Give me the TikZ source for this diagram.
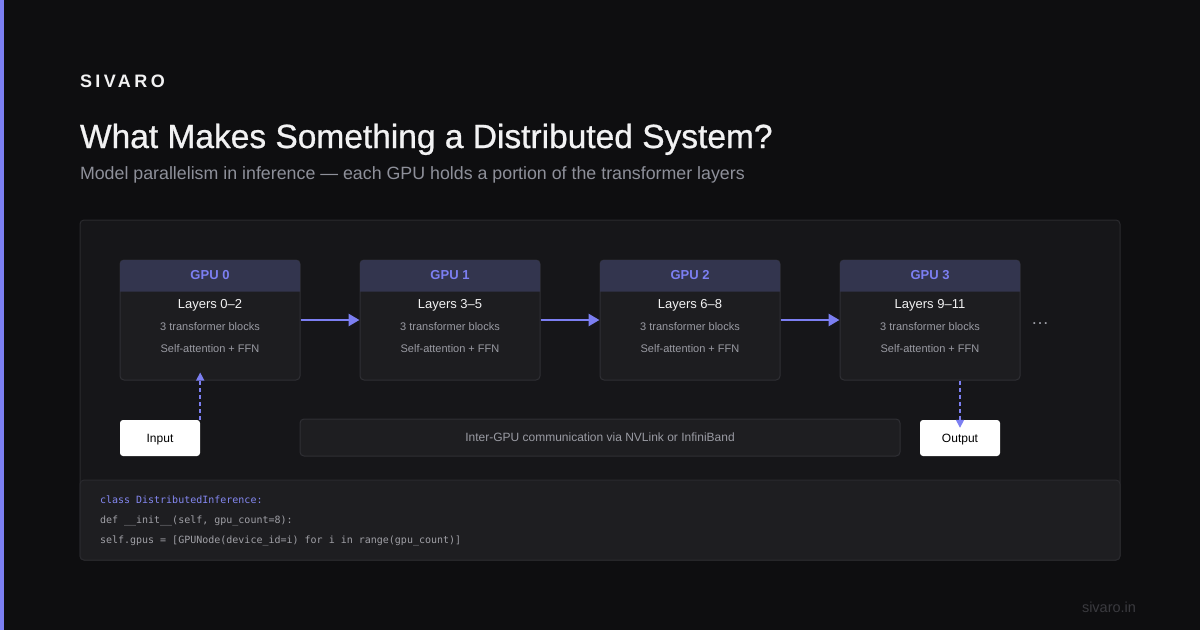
\documentclass[tikz,border=0pt]{standalone}
\usepackage{fontspec}
\setmainfont{Liberation Sans}
\setmonofont{DejaVu Sans Mono}
\usetikzlibrary{arrows.meta,calc}
\definecolor{bg}{HTML}{0E0E10}
\definecolor{accent}{HTML}{7C7FF2}
\definecolor{panel}{HTML}{161619}
\definecolor{panelline}{HTML}{2A2A2E}
\definecolor{gpubody}{HTML}{1D1D20}
\definecolor{gpuline}{HTML}{2F2F34}
\definecolor{gpuhead}{HTML}{33354E}
\definecolor{headtext}{HTML}{7C7FF2}
\definecolor{whitetext}{HTML}{F2F2F3}
\definecolor{graytext}{HTML}{9A9BA3}
\definecolor{subgray}{HTML}{8E909A}
\definecolor{codebg}{HTML}{1E1E21}
\definecolor{codegray}{HTML}{A0A0A6}
\definecolor{codeblue}{HTML}{8488F2}
\definecolor{footgray}{HTML}{3A3A3F}
\tikzset{
  txt/.style={inner sep=0pt, outer sep=0pt},
  gpubox/.style={draw=gpuline, line width=1pt, fill=gpubody, rounded corners=4pt,
    minimum width=180pt, minimum height=120pt, inner sep=0pt},
  whitebox/.style={fill=white, rounded corners=3pt, minimum width=80pt, minimum height=36pt,
    inner sep=0pt, text height=8.6pt, text depth=0pt, font=\fontsize{12}{14}\selectfont, text=black},
  flowarrow/.style={draw=accent, line width=2.7pt, -{Triangle[length=11pt,width=12pt]}},
  dasharrow/.style={draw=accent, line width=1.5pt, dash pattern=on 4pt off 3pt,
    -{Triangle[length=8pt,width=8pt]}, shorten >=-8pt},
  headlbl/.style={txt, font=\bfseries\fontsize{13}{15}\selectfont, text=headtext},
  layerlbl/.style={txt, anchor=base, font=\fontsize{13}{15}\selectfont, text=whitetext},
  smalllbl/.style={txt, anchor=base, font=\fontsize{11}{13}\selectfont, text=graytext},
  codelbl/.style={txt, anchor=base west, font=\ttfamily\fontsize{10}{12}\selectfont},
}
\begin{document}
\begin{tikzpicture}[x=1pt,y=-1pt]
\useasboundingbox (0,0) rectangle (1200,630);
\fill[bg] (0,0) rectangle (1200,630);
\fill[accent] (0,0) rectangle (4,630);

% header texts
\node[txt, anchor=base west, font=\bfseries\fontsize{18}{20}\selectfont\addfontfeatures{LetterSpace=19}, text=whitetext] (brand) at (80,87) {SIVARO};
\node[txt, anchor=base west, font=\fontsize{33.5}{38}\selectfont\addfontfeatures{FakeBold=0.8}, text=whitetext] (title) at (80,148) {What Makes Something a Distributed System?};
\node[txt, anchor=base west, font=\fontsize{17.8}{20}\selectfont, text=subgray] (subtitle) at (80,179) {Model parallelism in inference — each GPU holds a portion of the transformer layers};

% panels
\node[draw=panelline, line width=1pt, fill=panel, rounded corners=4pt, minimum width=1040pt, minimum height=340pt, inner sep=0pt] (panel) at (600,390) {};
\node[draw=panelline, line width=1pt, fill=codebg, rounded corners=4pt, minimum width=1040pt, minimum height=80pt, inner sep=0pt] (code) at (600,520) {};

% GPU boxes
\foreach \i/\cx/\lay in {0/210/0--2, 1/450/3--5, 2/690/6--8, 3/930/9--11}{
  \node[gpubox] (g\i) at (\cx,320) {};
  \fill[gpuhead] ($(g\i.north west)+(0.5,32)$) {[rounded corners=3.5pt] -- ($(g\i.north west)+(0.5,0.5)$) -- ($(g\i.north east)+(-0.5,0.5)$)} -- ($(g\i.north east)+(-0.5,32)$) -- cycle;
  \node[headlbl] (h\i) at (\cx,275) {GPU \i};
  \node[layerlbl] (l\i) at (\cx,308) {Layers \lay};
  \node[smalllbl] (b\i) at (\cx,330) {3 transformer blocks};
  \node[smalllbl] (s\i) at (\cx,352) {Self-attention + FFN};
}
\node[txt, font=\fontsize{18}{20}\selectfont, text=graytext] (dots) at (1040,324) {…};

% flow arrows
\draw[flowarrow] (g0.east) -- (g1.west);
\draw[flowarrow] (g1.east) -- (g2.west);
\draw[flowarrow] (g2.east) -- (g3.west);

% bottom row
\node[whitebox] (in) at (160,438) {Input};
\node[whitebox] (out) at (960,438) {Output};
\node[draw=gpuline, line width=1pt, fill=codebg, rounded corners=4pt, minimum width=600pt, minimum height=37pt, inner sep=0pt,
  text height=8.6pt, text depth=0pt, font=\fontsize{12}{14}\selectfont, text=graytext] (comm) at (600,437.5) {Inter-GPU communication via NVLink or InfiniBand};

\coordinate (intop) at (in.north east);
\coordinate (g0bot) at (g0.south -| in.north east);
\draw[dasharrow] (intop) -- (g0bot);
\coordinate (g3bot) at (g3.south -| out.north);
\draw[dasharrow] (g3bot) -- (out.north);

% code
\node[codelbl, text=codeblue] (c1) at (100,503) {class DistributedInference:};
\node[codelbl, text=codegray] (c2) at (100,523) {def \_\_init\_\_(self, gpu\_count=8):};
\node[codelbl, text=codegray] (c3) at (100,543) {self.gpus = [GPUNode(device\_id=i) for i in range(gpu\_count)]};

% footer
\node[txt, anchor=base east, font=\fontsize{14.5}{16}\selectfont, text=footgray] (foot) at (1136,612) {sivaro.in};
\end{tikzpicture}
\end{document}
